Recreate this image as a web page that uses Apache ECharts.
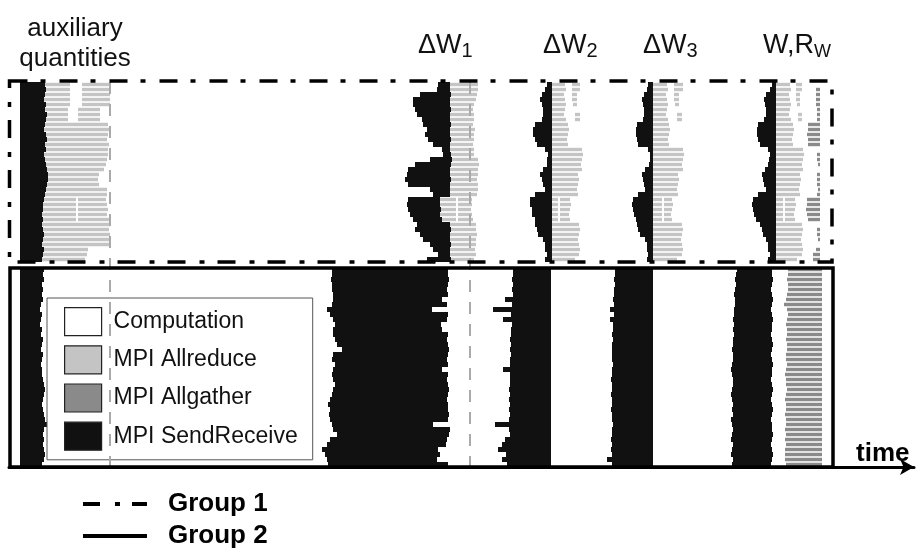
<!DOCTYPE html>
<html>
<head>
<meta charset="utf-8">
<script src="https://cdn.jsdelivr.net/npm/echarts@6/dist/echarts.min.js"></script>
<style>
html,body{margin:0;padding:0;background:#fff}
#chart{width:916px;height:550px}
</style>
</head>
<body>
<div id="chart"></div>
<script>
// time values are in trace units (one unit per pixel of the original plot)
const traceStart = 20

/* group 1: 36 processes */
const g1AuxBlackEnd = [45,46,45,44,46,45,47,46,45,44,46,47,45,46,44,45,46,47,48,48,47,46,45,44,43,43,42,43,42,43,44,43,42,44,43,42]
const g1AuxGrayEnd = [110,110,110,110,110,100,100,100,108,109,108,107,109,108,108,107,106,104,99,98,99,107,107,106,107,108,107,110,110,109,110,110,109,88,87,85]
const g1W1BlackStart = [438,437,420,413,413,415,417,422,423,427,425,428,433,442,443,430,415,408,407,405,408,430,433,408,407,408,410,413,417,415,420,423,430,433,438,427]
const g1W1BlackEnd = [450,450,451,450,450,451,450,450,451,450,450,451,450,450,451,452,451,450,450,451,450,450,450,440,440,441,440,442,450,451,450,450,451,450,450,451]
const g1W1GrayEnd = [478,478,477,476,474,473,474,474,473,475,474,474,473,474,474,478,479,478,478,477,478,478,477,472,472,471,472,473,476,476,477,476,476,475,476,474]
const g1W2BlackStart = [547,545,542,540,542,543,543,542,535,533,533,535,537,545,548,547,547,543,540,542,543,545,535,530,530,532,532,535,535,537,538,543,545,545,547,545]
const g1W2GrayEnd = [565,566,564,565,566,565,564,566,568,569,568,567,568,582,583,582,581,582,578,579,578,577,578,570,571,570,569,570,579,580,579,578,579,580,579,575]
const g1W3BlackStart = [648,647,644,642,643,644,644,643,637,636,636,637,638,648,650,650,649,645,642,643,644,645,638,633,632,633,634,636,637,638,640,645,647,647,648,647]
const g1W3GrayEnd = [667,668,666,667,668,667,666,668,669,670,669,668,669,683,684,683,682,683,678,679,678,677,678,672,673,672,671,672,682,683,682,681,682,683,682,677]
const g1W4BlackStart = [772,770,766,764,765,766,766,764,758,757,757,758,760,768,770,769,768,765,762,763,764,766,758,753,752,753,754,756,760,762,763,766,768,768,770,768]
const g1W4GrayEnd = [790,791,789,790,791,790,789,791,793,794,793,792,793,803,804,803,802,803,800,801,800,799,800,795,796,795,794,795,802,803,802,801,802,803,802,797]
const g1SyncEnd = [552,653,776]
// extra MPI Allreduce pieces [process, start, end]
const g1ExtraReduce = [
    [0,572,580],[1,572,580],[2,572,577],[3,572,577],[4,573,577],[6,575,580],[7,575,580],
    [0,674,683],[1,674,683],[2,674,679],[3,674,679],[4,675,679],[6,677,682],[7,677,682],
    [0,796,802],[1,796,802],[2,796,800],[3,796,800],[4,797,800],[6,798,802],[7,798,802]
]
// computation gaps inside the collective phases [process, start, end]
const g1IdleGaps = [
    [0,70,82],[1,70,82],[2,70,82],[3,70,82],[4,70,82],[5,68,78],[6,68,78],[7,68,78],
    [23,76,78],[24,76,78],[25,76,78],[26,76,78],[27,76,78],
    [23,456,458],[24,456,458],[25,456,458],[26,456,458],[27,456,458],
    [23,558,560],[24,558,560],[25,558,560],[26,558,560],[27,558,560],
    [23,662,664],[24,662,664],[25,662,664],[26,662,664],[27,662,664],
    [23,783,785],[24,783,785],[25,783,785],[26,783,785],[27,783,785]
]
// MPI Allgather pieces [process, start, end]
const g1Gather = [
    [1,816,820],[2,816,820],[3,816,820],[4,816,820],[5,817,820],[6,817,820],[7,817,820],
    [8,808,820],[9,808,820],[10,807,820],[11,808,820],[12,808,820],
    [14,817,820],[15,817,820],[16,818,820],[18,817,820],[19,817,820],[20,817,820],[21,818,820],[22,817,820],
    [23,807,820],[24,807,820],[25,806,820],[26,807,820],[27,808,820],
    [29,817,820],[30,817,820],[31,818,820],[33,816,820],[34,813,820],[35,813,820]
]

/* group 2: 40 processes */
const g2AuxEnd = [44,43,44,42,43,42,43,41,40,42,41,40,42,41,43,42,41,43,42,41,42,42,43,44,45,44,43,42,43,44,45,47,44,43,44,43,44,45,44,42]
const g2W1Start = [332,332,331,332,332,333,333,332,327,330,333,335,333,333,335,337,342,333,332,335,333,332,333,335,333,332,330,328,330,329,330,332,333,337,330,327,322,325,327,328]
const g2W1End = [448,448,449,448,447,448,442,447,432,448,447,441,442,448,447,448,449,448,447,448,442,448,447,448,449,448,447,448,448,449,448,433,450,449,447,446,438,440,437,448]
const g2W2Start = [513,513,512,513,512,513,505,512,493,511,503,512,511,511,510,511,510,511,510,510,503,510,510,510,509,510,509,510,509,510,509,495,509,510,505,502,498,506,502,507]
const g2W3Start = [615,615,614,615,614,614,613,614,610,614,610,613,613,612,613,612,612,612,612,613,612,612,611,612,612,611,612,612,611,612,612,613,612,612,611,612,611,612,607,612]
const g2W4Start = [737,736,735,736,735,734,735,735,734,734,733,734,733,734,733,733,732,733,733,732,731,732,733,733,732,731,732,733,732,733,731,732,733,732,731,733,732,731,733,732]
const g2W4End = [772,772,773,772,771,772,773,772,771,772,773,772,772,771,772,773,772,771,772,773,772,772,771,772,773,772,771,772,773,772,771,772,772,773,772,771,772,773,772,771]
const g2W4GatherStart = [788,788,787,788,788,787,786,784,787,788,787,786,787,787,786,787,787,786,786,787,786,785,786,786,787,786,785,786,786,785,786,786,785,786,785,786,785,785,785,786]
const g2SyncEnd = [551,653]
const g2GatherEnd = 822

const g2RowOffset = 37
const font = "'Liberation Sans', Arial, sans-serif"

/*************************build segments************************/
let sendRecv = [], reduce = [], gather = []

function addReduce(row,s,e){
    let pieces = [[s,e]]
    g1IdleGaps.filter(g=>g[0]===row).forEach(g=>{
        pieces = pieces.flatMap(p=>(g[2]<=p[0]||g[1]>=p[1]) ? [p] : [[p[0],g[1]],[g[2],p[1]]])
    })
    pieces.forEach(p=>{ if(p[1]>p[0]) reduce.push([row,p[0],p[1]]) })
}

g1AuxBlackEnd.forEach((v,i)=>{
    sendRecv.push([i,traceStart,v])
    addReduce(i,v,g1AuxGrayEnd[i])
    sendRecv.push([i,g1W1BlackStart[i],g1W1BlackEnd[i]])
    addReduce(i,g1W1BlackEnd[i],g1W1GrayEnd[i])
    sendRecv.push([i,g1W2BlackStart[i],g1SyncEnd[0]])
    addReduce(i,g1SyncEnd[0],g1W2GrayEnd[i])
    sendRecv.push([i,g1W3BlackStart[i],g1SyncEnd[1]])
    addReduce(i,g1SyncEnd[1],g1W3GrayEnd[i])
    sendRecv.push([i,g1W4BlackStart[i],g1SyncEnd[2]])
    addReduce(i,g1SyncEnd[2],g1W4GrayEnd[i])
})
g1ExtraReduce.forEach(p=>reduce.push(p))
g1Gather.forEach(p=>gather.push(p))

g2AuxEnd.forEach((v,j)=>{
    let r = g2RowOffset + j
    sendRecv.push([r,traceStart,v])
    sendRecv.push([r,g2W1Start[j],g2W1End[j]])
    sendRecv.push([r,g2W2Start[j],g2SyncEnd[0]])
    sendRecv.push([r,g2W3Start[j],g2SyncEnd[1]])
    sendRecv.push([r,g2W4Start[j],g2W4End[j]])
    gather.push([r,g2W4GatherStart[j],g2GatherEnd])
})

/*************************renderers************************/
function segRenderer(inset){
    return (params,api)=>{
        let row = api.value(0)
        let a = api.coord([api.value(1),row])
        let b = api.coord([api.value(2),row+1])
        return {
            type:"rect",
            shape:{x:a[0],y:a[1]+inset,width:b[0]-a[0],height:b[1]-a[1]-2*inset},
            style:{fill:api.visual("color")}
        }
    }
}
function boxRenderer(dash){
    return (params,api)=>{
        let a = api.coord([api.value(0),api.value(2)])
        let b = api.coord([api.value(1),api.value(3)])
        return {
            type:"rect",
            shape:{x:a[0],y:a[1],width:b[0]-a[0],height:b[1]-a[1]},
            style:{fill:null,stroke:"#000",lineWidth:3.5,lineDash:dash}
        }
    }
}

const labelRich = {
    m:{fontFamily:font,fontSize:27,lineHeight:30,fontWeight:"normal",color:"#111"},
    s:{fontFamily:font,fontSize:20,lineHeight:8,fontWeight:"normal",verticalAlign:"bottom",color:"#111"},
    w:{fontFamily:font,fontSize:18,lineHeight:8,fontWeight:"normal",verticalAlign:"bottom",color:"#111"}
}

let chart = echarts.init(document.getElementById("chart"))
chart.setOption({
    animation:false,
    backgroundColor:"#fff",
    grid:{left:9,right:2,top:82,bottom:83},
    xAxis:{
        type:"value",min:9,max:914,position:"bottom",
        axisLine:{show:true,onZero:false,symbol:["none","arrow"],symbolSize:[12,14],lineStyle:{color:"#000",width:3}},
        axisTick:{show:false},axisLabel:{show:false},splitLine:{show:false}
    },
    yAxis:{type:"value",inverse:true,min:0,max:77,show:false},
    title:[
        {text:"auxiliary\nquantities",left:70,top:9,textAlign:"center",
            textStyle:{fontFamily:font,fontSize:26,lineHeight:30,fontWeight:"normal",color:"#111"}},
        {text:"{m|ΔW}{s|1}",left:413,top:26,textStyle:{rich:labelRich}},
        {text:"{m|ΔW}{s|2}",left:538,top:26,textStyle:{rich:labelRich}},
        {text:"{m|ΔW}{s|3}",left:638,top:26,textStyle:{rich:labelRich}},
        {text:"{m|W,R}{w|W}",left:758,top:26,textStyle:{rich:labelRich}},
        {text:"time",left:851,top:434,textStyle:{fontFamily:font,fontSize:26,lineHeight:30,fontWeight:"bold",color:"#000"}}
    ],
    legend:[
        {
            data:["Computation","MPI Allreduce","MPI Allgather","MPI SendReceive"],
            orient:"vertical",left:47,top:298,
            padding:[9,15,9,17],itemWidth:37,itemHeight:28,itemGap:9,
            icon:"rect",selectedMode:false,
            backgroundColor:"#fff",borderColor:"#555",borderWidth:1,
            itemStyle:{borderColor:"#222",borderWidth:1.2},
            formatter:name=>"{t|"+name+"}",
            textStyle:{rich:{t:{fontFamily:font,fontSize:23,color:"#111",padding:[0,0,0,7]}}}
        },
        {
            data:[
                {name:"Group 1",icon:"path://M0,0H17V4H0Z M32,0H37V4H32Z M49,0H64V4H49Z"},
                {name:"Group 2",icon:"path://M0,0H64V4H0Z"}
            ],
            orient:"vertical",left:83,top:491,padding:0,
            itemWidth:64,itemHeight:4,itemGap:6,selectedMode:false,
            itemStyle:{borderWidth:0},
            formatter:name=>"{g|"+name+"}",
            textStyle:{rich:{g:{fontFamily:font,fontSize:26,fontWeight:"bold",lineHeight:26,color:"#000",padding:[0,0,0,16]}}}
        }
    ],
    series:[
        {
            name:"Computation",type:"custom",renderItem:segRenderer(0),
            itemStyle:{color:"#ffffff"},encode:{x:[1,2],y:0},data:[],z:1
        },
        {
            name:"MPI Allreduce",type:"custom",renderItem:segRenderer(0.8),
            itemStyle:{color:"#c4c4c4"},encode:{x:[1,2],y:0},data:reduce,z:2,silent:true
        },
        {
            name:"MPI Allgather",type:"custom",renderItem:segRenderer(0.8),
            itemStyle:{color:"#8a8a8a"},encode:{x:[1,2],y:0},data:gather,z:2,silent:true
        },
        {
            name:"MPI SendReceive",type:"custom",renderItem:segRenderer(0),
            itemStyle:{color:"#111111"},encode:{x:[1,2],y:0},data:sendRecv,z:3,silent:true,
            markLine:{
                silent:true,symbol:"none",label:{show:false},
                lineStyle:{color:"#aaa",width:2,type:[12,10]},
                data:[{xAxis:110},{xAxis:470}]
            }
        },
        {
            name:"Group 1",type:"custom",renderItem:boxRenderer([18,13,5,14]),
            itemStyle:{color:"#000"},encode:{x:[0,1],y:[2,3]},data:[[9.5,832,-0.2,36]],z:5,silent:true
        },
        {
            name:"Group 2",type:"custom",renderItem:boxRenderer(null),
            itemStyle:{color:"#000"},encode:{x:[0,1],y:[2,3]},data:[[10,833,37.2,77]],z:5,silent:true
        }
    ]
})
</script>
</body>
</html>
